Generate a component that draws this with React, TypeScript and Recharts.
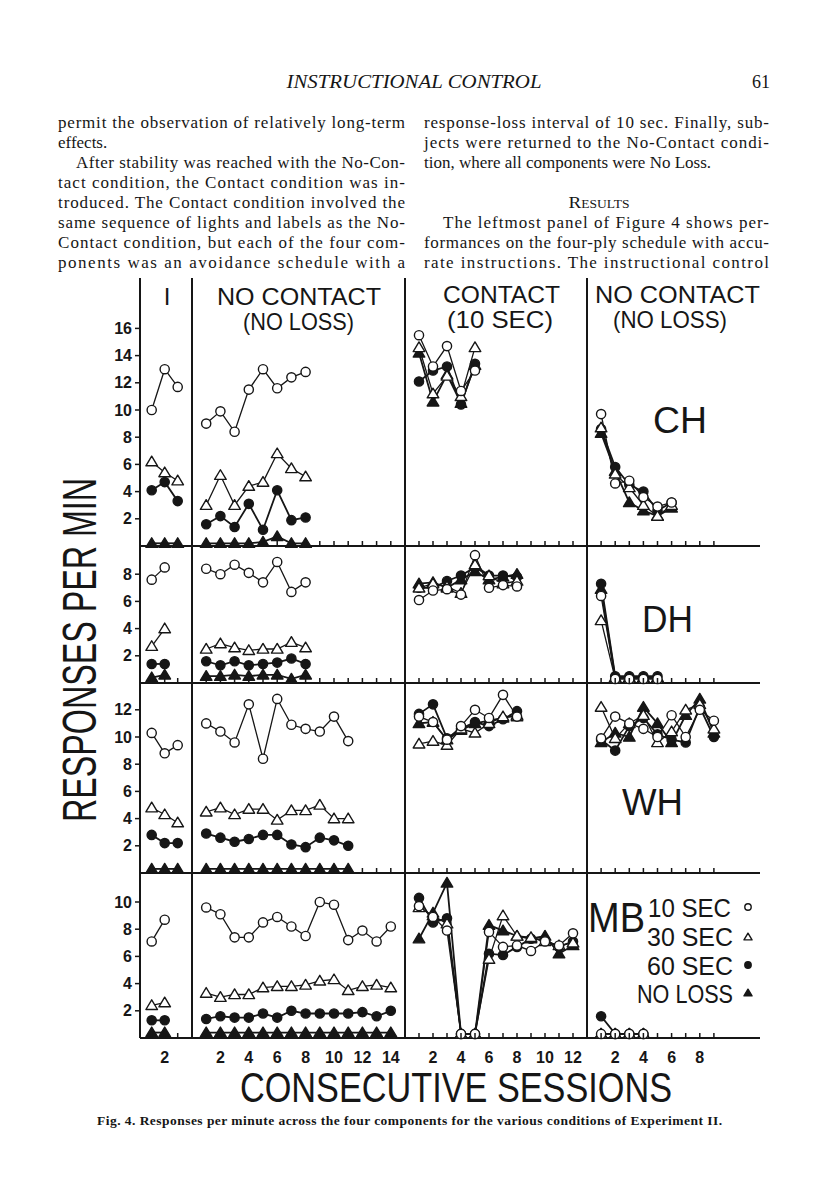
import React from "react";
import { LineChart, Line, XAxis, YAxis } from "recharts";

const INK = "#161616";
const SANS = "'Liberation Sans', Arial, Helvetica, sans-serif";
const SERIF = "'Liberation Serif', 'Times New Roman', serif";

// session ticks per condition
const SESS_I = [1, 2, 3];
const SESS_NC1 = [1, 2, 3, 4, 5, 6, 7, 8, 9, 10, 11, 12, 13, 14];
const SESS_C = [1, 2, 3, 4, 5, 6, 7, 8, 9, 10, 11, 12];
const SESS_NC2 = [1, 2, 3, 4, 5, 6, 7, 8, 9];

// y ticks per subject
const TICKS_CH = [2, 4, 6, 8, 10, 12, 14, 16];
const TICKS_DH = [2, 4, 6, 8];
const TICKS_WH = [2, 4, 6, 8, 10, 12];
const TICKS_MB = [2, 4, 6, 8, 10];

// each panel: [10 SEC, 30 SEC, 60 SEC, NO LOSS], responses per min by session
const CH_I = [
  [10.0, 13.0, 11.7],
  [6.2, 5.4, 4.8],
  [4.1, 4.7, 3.3],
  [0.2, 0.2, 0.2],
];
const CH_NC1 = [
  [9.0, 9.9, 8.4, 11.5, 13.0, 11.6, 12.4, 12.8],
  [3.0, 5.2, 3.0, 4.4, 4.7, 6.8, 5.7, 5.1],
  [1.6, 2.2, 1.4, 3.1, 1.2, 4.1, 1.9, 2.1],
  [0.2, 0.2, 0.2, 0.2, 0.3, 0.7, 0.2, 0.2],
];
const CH_C = [
  [15.5, 13.2, 14.7, 11.4, 12.9],
  [14.6, 11.2, 12.5, 11.0, 14.6],
  [12.1, 12.9, 13.2, 10.4, 13.4],
  [14.2, 10.6, 12.6, 10.5, 13.3],
];
const CH_NC2 = [
  [9.7, 4.6, 4.8, 3.6, 2.9, 3.2],
  [8.7, 5.3, 4.3, 3.0, 2.2, 3.0],
  [8.6, 5.8, 4.5, 4.0, 2.6, 3.2],
  [8.3, 5.5, 3.2, 2.6, 2.2, 2.8],
];

const DH_I = [
  [7.6, 8.5],
  [2.7, 4.0],
  [1.4, 1.4],
  [0.4, 0.6],
];
const DH_NC1 = [
  [8.4, 8.0, 8.7, 8.1, 7.4, 8.9, 6.7, 7.4],
  [2.5, 2.9, 2.6, 2.4, 2.5, 2.5, 3.0, 2.6],
  [1.6, 1.3, 1.6, 1.3, 1.4, 1.5, 1.8, 1.4],
  [0.5, 0.5, 0.6, 0.5, 0.6, 0.6, 0.3, 0.6],
];
const DH_C = [
  [6.1, 6.8, 6.9, 6.5, 9.4, 7.0, 7.2, 7.1],
  [7.0, 7.3, 7.1, 6.6, 8.7, 7.9, 7.3, 7.5],
  [7.0, 7.0, 7.5, 7.9, 8.5, 7.9, 7.9, 7.8],
  [7.3, 7.4, 7.0, 7.6, 8.2, 7.6, 7.8, 8.0],
];
const DH_NC2 = [
  [6.4, 0.3, 0.3, 0.3, 0.3],
  [4.6, 0.3, 0.3, 0.3, 0.3],
  [7.3, 0.5, 0.5, 0.5, 0.5],
  [6.9, 0.4, 0.4, 0.4, 0.4],
];

const WH_I = [
  [10.3, 8.8, 9.4],
  [4.8, 4.3, 3.7],
  [2.8, 2.2, 2.2],
  [0.3, 0.3, 0.3],
];
const WH_NC1 = [
  [11.0, 10.4, 9.6, 12.4, 8.4, 12.8, 10.9, 10.6, 10.4, 11.5, 9.7],
  [4.5, 4.8, 4.3, 4.7, 4.7, 3.9, 4.6, 4.6, 5.0, 4.0, 4.0],
  [2.9, 2.6, 2.3, 2.5, 2.8, 2.8, 2.1, 1.9, 2.6, 2.4, 2.0],
  [0.3, 0.3, 0.3, 0.3, 0.3, 0.3, 0.3, 0.3, 0.3, 0.3, 0.3],
];
const WH_C = [
  [11.5, 11.1, 9.8, 10.8, 12.0, 11.4, 13.1, 11.5],
  [9.5, 9.7, 9.4, 10.6, 10.3, 11.0, 11.5, 11.5],
  [11.7, 12.4, 9.9, 10.6, 11.1, 10.8, 11.3, 11.9],
  [11.0, 11.1, 9.8, 10.5, 11.0, 11.2, 11.4, 11.6],
];
const WH_NC2 = [
  [9.9, 11.5, 11.0, 10.6, 10.0, 11.6, 10.0, 12.0, 11.2],
  [12.2, 9.9, 11.0, 11.6, 9.6, 10.4, 12.0, 12.4, 10.6],
  [9.8, 9.0, 10.8, 11.4, 10.2, 9.8, 9.6, 12.2, 10.0],
  [9.6, 10.3, 10.0, 12.2, 11.0, 9.6, 11.6, 12.8, 10.3],
];

const MB_I = [
  [7.1, 8.7],
  [2.4, 2.6],
  [1.3, 1.3],
  [0.4, 0.4],
];
const MB_NC1 = [
  [9.6, 9.1, 7.4, 7.4, 8.5, 8.9, 8.2, 7.5, 10.0, 9.8, 7.2, 7.9, 7.1, 8.2],
  [3.3, 3.0, 3.2, 3.2, 3.7, 3.8, 3.8, 3.9, 4.2, 4.3, 3.5, 3.8, 3.9, 3.7],
  [1.4, 1.6, 1.5, 1.5, 1.8, 1.5, 2.0, 1.8, 1.8, 1.8, 1.8, 1.9, 1.6, 2.0],
  [0.4, 0.4, 0.4, 0.4, 0.4, 0.4, 0.4, 0.4, 0.4, 0.4, 0.4, 0.4, 0.4, 0.4],
];
const MB_C = [
  [9.7, 8.9, 7.9, 0.3, 0.3, 7.8, 6.7, 6.8, 6.4, 7.1, 6.8, 7.7],
  [9.6, 9.0, 8.4, 0.3, 0.3, 5.8, 9.0, 7.5, 7.4, 7.1, 6.8, 7.0],
  [10.3, 8.5, 8.8, 0.3, 0.3, 6.2, 6.1, 6.7, 7.3, 7.2, 6.7, 7.1],
  [7.3, 9.2, 11.4, 0.3, 0.3, 8.3, 7.9, 7.5, 7.3, 7.5, 6.2, 6.8],
];
const MB_NC2 = [
  [0.3, 0.3, 0.3, 0.3],
  [0.3, 0.3, 0.3, 0.3],
  [1.6, 0.3, 0.3, 0.3],
  [0.3, 0.3, 0.3, 0.3],
];

// page layout (px)
const PX_PER_UNIT = 13.6;
const COLS = [
  { left: 140, width: 52, domain: [0.1, 4.1], ticks: SESS_I },
  { left: 192, width: 213, domain: [0, 15], ticks: SESS_NC1 },
  { left: 405, width: 182, domain: [0, 13], ticks: SESS_C },
  { left: 587, width: 173, domain: [0, 12.27], ticks: SESS_NC2 },
];
const ROWS = [
  { top: 278, bottom: 546, ticks: TICKS_CH, panels: [CH_I, CH_NC1, CH_C, CH_NC2] },
  { top: 546, bottom: 683, ticks: TICKS_DH, panels: [DH_I, DH_NC1, DH_C, DH_NC2] },
  { top: 683, bottom: 873, ticks: TICKS_WH, panels: [WH_I, WH_NC1, WH_C, WH_NC2] },
  { top: 873, bottom: 1038, ticks: TICKS_MB, panels: [MB_I, MB_NC1, MB_C, MB_NC2] },
];

const SERIES = [
  { key: "d", kind: "none", width: 1.8 },
  { key: "c", kind: "sixty", width: 1.8 },
  { key: "b", kind: "thirty", width: 1.3 },
  { key: "a", kind: "ten", width: 1.3 },
];

function Marker({ cx, cy, kind, r = 4.6 }: { cx?: number; cy?: number; kind: string; r?: number }) {
  if (cx == null || cy == null) return null;
  const fill = kind === "sixty" || kind === "none" ? INK : "#fff";
  if (kind === "ten" || kind === "sixty") {
    return <circle cx={cx} cy={cy} r={r} fill={fill} stroke={INK} strokeWidth={1.4} />;
  }
  const s = r * 1.2;
  const pts = `${cx},${cy - s} ${cx - s * 1.05},${cy + s * 0.75} ${cx + s * 1.05},${cy + s * 0.75}`;
  return <polygon points={pts} fill={fill} stroke={INK} strokeWidth={1.4} strokeLinejoin="round" />;
}

function SessionTick(props: any) {
  const { x, y, payload, label } = props;
  return (
    <g>
      <line x1={x} x2={x} y1={y} y2={y - 5} stroke={INK} strokeWidth={1.5} />
      {label && payload.value % 2 === 0 ? (
        <text x={x} y={y + 25} textAnchor="middle" fill={INK} fontSize={16} fontWeight={700} fontFamily={SANS}>
          {payload.value}
        </text>
      ) : null}
    </g>
  );
}

function Panel({ series, ci, ri }: { series: number[][]; ci: number; ri: number }) {
  const col = COLS[ci];
  const row = ROWS[ri];
  const first = ci === 0;
  const bottomRow = ri === ROWS.length - 1;
  const yW = first ? 50 : 4;
  const mTop = 8;
  const xH = bottomRow ? 32 : 10;
  const plotH = row.bottom - row.top;
  const ymax = plotH / PX_PER_UNIT;
  const data = series[0].map((_, i) => ({
    s: i + 1,
    a: series[0][i],
    b: series[1][i],
    c: series[2][i],
    d: series[3][i],
  }));
  return (
    <div style={{ position: "absolute", left: col.left - yW, top: row.top - mTop }}>
      <LineChart
        width={yW + col.width + 6}
        height={mTop + plotH + xH}
        data={data}
        margin={{ top: mTop, right: 6, bottom: 0, left: 0 }}
      >
        <XAxis
          dataKey="s"
          type="number"
          domain={col.domain}
          ticks={col.ticks}
          interval={0}
          height={xH}
          tickSize={0}
          tickMargin={0}
          tickLine={false}
          axisLine={{ stroke: INK, strokeWidth: 2 }}
          tick={(p: any) => <SessionTick {...p} label={bottomRow} />}
        />
        <YAxis
          type="number"
          domain={[0, ymax]}
          ticks={first ? row.ticks : []}
          width={yW}
          tickSize={5}
          tickMargin={3}
          tickLine={first ? { stroke: INK, strokeWidth: 1.5 } : false}
          tick={first ? { fill: INK, fontSize: 16, fontWeight: 700, fontFamily: SANS } : false}
          axisLine={{ stroke: INK, strokeWidth: 2 }}
        />
        {SERIES.map((sr) => (
          <Line
            key={sr.key}
            dataKey={sr.key}
            type="linear"
            stroke={INK}
            strokeWidth={sr.width}
            isAnimationActive={false}
            activeDot={false}
            dot={(p: any) => <Marker key={`${sr.key}-${p.index}`} cx={p.cx} cy={p.cy} kind={sr.kind} />}
          />
        ))}
      </LineChart>
    </div>
  );
}

const LEFT_LINES: [string, boolean, number][] = [
  ["permit the observation of relatively long-term", true, 0],
  ["effects.", false, 0],
  ["After stability was reached with the No-Con-", true, 18],
  ["tact condition, the Contact condition was in-", true, 0],
  ["troduced. The Contact condition involved the", true, 0],
  ["same sequence of lights and labels as the No-", true, 0],
  ["Contact condition, but each of the four com-", true, 0],
  ["ponents was an avoidance schedule with a", true, 0],
];
const RIGHT_LINES: [string, boolean, number, number][] = [
  ["response-loss interval of 10 sec. Finally, sub-", true, 0, 0],
  ["jects were returned to the No-Contact condi-", true, 0, 1],
  ["tion, where all components were No Loss.", false, 0, 2],
  ["The leftmost panel of Figure 4 shows per-", true, 19, 5],
  ["formances on the four-ply schedule with accu-", true, 0, 6],
  ["rate instructions. The instructional control", true, 0, 7],
];

function PageText() {
  const base = (i: number) => 128 + i * 20;
  return (
    <svg width={816} height={1200} style={{ position: "absolute", left: 0, top: 0, pointerEvents: "none" }}>
      <g fill={INK} fontFamily={SERIF}>
        <text x={414} y={88} textAnchor="middle" fontStyle="italic" fontSize={18} textLength={255} lengthAdjust="spacingAndGlyphs">
          INSTRUCTIONAL CONTROL
        </text>
        <text x={770} y={88} textAnchor="end" fontSize={18}>61</text>
        {LEFT_LINES.map(([t, just, ind], i) => (
          <text key={"l" + i} x={58 + ind} y={base(i)} fontSize={17} textLength={just ? 347 - ind : undefined} lengthAdjust="spacing">
            {t}
          </text>
        ))}
        {RIGHT_LINES.map(([t, just, ind, li], i) => (
          <text key={"r" + i} x={424 + ind} y={base(li)} fontSize={17} textLength={just ? 345 - ind : undefined} lengthAdjust="spacing">
            {t}
          </text>
        ))}
        <text x={599} y={208} textAnchor="middle" fontSize={17} textLength={61} lengthAdjust="spacingAndGlyphs" style={{ fontVariant: "small-caps" }}>
          Results
        </text>
        <text x={97} y={1125} fontSize={13.5} fontWeight={700} textLength={625} lengthAdjust="spacing">
          Fig. 4. Responses per minute across the four components for the various conditions of Experiment II.
        </text>
      </g>
      <g fill={INK} fontFamily={SANS}>
        <text x={167} y={305} textAnchor="middle" fontSize={24}>I</text>
        <text x={217} y={305} fontSize={24} textLength={164} lengthAdjust="spacingAndGlyphs">NO CONTACT</text>
        <text x={243} y={330} fontSize={24} textLength={111} lengthAdjust="spacingAndGlyphs">(NO LOSS)</text>
        <text x={443} y={303} fontSize={24} textLength={117} lengthAdjust="spacingAndGlyphs">CONTACT</text>
        <text x={447} y={328} fontSize={24} textLength={106} lengthAdjust="spacingAndGlyphs">(10 SEC)</text>
        <text x={595} y={303} fontSize={24} textLength={165} lengthAdjust="spacingAndGlyphs">NO CONTACT</text>
        <text x={613} y={328} fontSize={24} textLength={114} lengthAdjust="spacingAndGlyphs">(NO LOSS)</text>
        <text x={653} y={433} fontSize={36} textLength={54} lengthAdjust="spacingAndGlyphs">CH</text>
        <text x={642} y={632} fontSize={37} textLength={51} lengthAdjust="spacingAndGlyphs">DH</text>
        <text x={622} y={815} fontSize={37} textLength={61} lengthAdjust="spacingAndGlyphs">WH</text>
        <text x={588} y={932} fontSize={42} textLength={57} lengthAdjust="spacingAndGlyphs">MB</text>
        <text x={731} y={917} textAnchor="end" fontSize={25} textLength={83} lengthAdjust="spacingAndGlyphs">10 SEC</text>
        <text x={733} y={946} textAnchor="end" fontSize={25} textLength={86} lengthAdjust="spacingAndGlyphs">30 SEC</text>
        <text x={733} y={975} textAnchor="end" fontSize={25} textLength={86} lengthAdjust="spacingAndGlyphs">60 SEC</text>
        <text x={733} y={1003} textAnchor="end" fontSize={25} textLength={96} lengthAdjust="spacingAndGlyphs">NO LOSS</text>
        <text
          x={0}
          y={0}
          transform="translate(96,650) rotate(-90)"
          textAnchor="middle"
          fontSize={48}
          textLength={344}
          lengthAdjust="spacingAndGlyphs"
        >
          RESPONSES PER MIN
        </text>
        <text x={240} y={1102} fontSize={42} textLength={432} lengthAdjust="spacingAndGlyphs">
          CONSECUTIVE SESSIONS
        </text>
      </g>
      <Marker cx={748} cy={907} kind="ten" r={3.2} />
      <Marker cx={748} cy={937} kind="thirty" r={3.2} />
      <Marker cx={748} cy={965} kind="sixty" r={3.2} />
      <Marker cx={748} cy={993} kind="none" r={3.2} />
    </svg>
  );
}

export default function App() {
  return (
    <div style={{ position: "absolute", left: 0, top: 0, width: 816, height: 1200, background: "#fff" }}>
      {ROWS.map((row, ri) =>
        row.panels.map((series, ci) => <Panel key={`${ri}-${ci}`} series={series} ci={ci} ri={ri} />)
      )}
      <PageText />
    </div>
  );
}
